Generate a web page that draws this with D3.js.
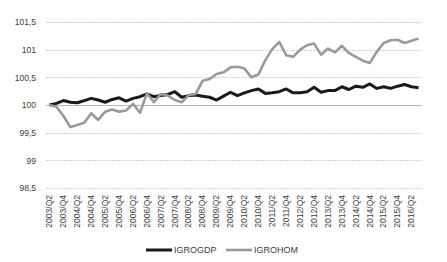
<!DOCTYPE html>
<html>
<head>
<meta charset="utf-8">
<script src="https://cdn.jsdelivr.net/npm/d3@7"></script>
<style>
  body { margin: 0; background: #fff; }
  text { font-family: "Liberation Sans", Arial, sans-serif; fill: #404040; }
</style>
</head>
<body>
<div class="canvas"></div>
<script>
// data
const quarters = [];
for (let y = 2003; y <= 2016; y++) {
  for (let q = 1; q <= 4; q++) {
    if ((y === 2003 && q < 2) || (y === 2016 && q > 3)) continue;
    quarters.push(`${y}/Q${q}`);
  }
}
const igrogdp = [100.00, 100.03, 100.08, 100.05, 100.04, 100.08, 100.12, 100.09, 100.05, 100.10,
  100.13, 100.07, 100.12, 100.15, 100.20, 100.15, 100.17, 100.19, 100.24, 100.14,
  100.17, 100.18, 100.16, 100.14, 100.09, 100.16, 100.23, 100.17, 100.22, 100.26,
  100.29, 100.21, 100.22, 100.24, 100.29, 100.22, 100.22, 100.24, 100.32, 100.23,
  100.26, 100.26, 100.33, 100.28, 100.34, 100.32, 100.38, 100.30, 100.33, 100.30,
  100.34, 100.37, 100.33, 100.31];
const igrohom = [100.00, 99.97, 99.80, 99.60, 99.64, 99.68, 99.85, 99.73, 99.88, 99.92,
  99.88, 99.90, 100.02, 99.86, 100.21, 100.05, 100.20, 100.17, 100.09, 100.05,
  100.18, 100.20, 100.44, 100.47, 100.56, 100.59, 100.68, 100.69, 100.66, 100.50,
  100.55, 100.81, 101.01, 101.14, 100.90, 100.87, 101.00, 101.08, 101.11, 100.91,
  101.02, 100.95, 101.07, 100.94, 100.87, 100.80, 100.76, 100.96, 101.12, 101.17,
  101.18, 101.12, 101.16, 101.20];
const yTicks = [98.5, 99, 99.5, 100, 100.5, 101, 101.5];
const series = [
  { name: 'IGROGDP', values: igrogdp, color: '#1a1a1a', width: 3 },
  { name: 'IGROHOM', values: igrohom, color: '#9a9a9a', width: 2.6 }
];

// Margins + Dimensions
const margin = { top: 22, right: 25, bottom: 74, left: 46 };
const width = 447, height = 262;
const graphWidth = width - margin.left - margin.right;
const graphHeight = height - margin.top - margin.bottom;

const svg = d3.select('.canvas').append('svg')
  .attr('width', width)
  .attr('height', height);
const graph = svg.append('g')
  .attr('transform', `translate(${margin.left},${margin.top})`);

// scales
const xScale = d3.scaleBand().domain(quarters).range([0, graphWidth]);
const yScale = d3.scaleLinear().domain([98.5, 101.5]).range([graphHeight, 0]);
const xPos = i => xScale(quarters[i]) + xScale.bandwidth() / 2;

// gridlines
graph.append('g').selectAll('line')
  .data(yTicks)
  .enter().append('line')
  .attr('x1', 0).attr('x2', graphWidth)
  .attr('y1', d => Math.round(yScale(d)) + 0.5)
  .attr('y2', d => Math.round(yScale(d)) + 0.5)
  .attr('stroke', d => d === 100 ? '#b8b8b8' : '#d0d0d0')
  .attr('stroke-dasharray', d => d === 100 ? null : '2,1');

// y axis
const yAxis = d3.axisLeft(yScale)
  .tickValues(yTicks)
  .tickSize(0)
  .tickPadding(10)
  .tickFormat(d => String(d).replace('.', ','));
const yAxisGroup = graph.append('g').call(yAxis);
yAxisGroup.select('.domain').remove();
yAxisGroup.selectAll('text')
  .style('font-size', '8.5px')
  .attr('fill', '#404040');

// x axis, labels every other quarter
const xAxis = d3.axisBottom(xScale)
  .tickValues(quarters.filter((d, i) => i % 2 === 0))
  .tickSize(0)
  .tickPadding(0);
const xAxisGroup = graph.append('g')
  .attr('transform', `translate(0,${graphHeight})`)
  .call(xAxis);
xAxisGroup.select('.domain').remove();
xAxisGroup.selectAll('text')
  .attr('transform', 'rotate(-90)')
  .attr('text-anchor', 'end')
  .attr('x', -7)
  .attr('y', 0)
  .attr('dy', '0.32em')
  .style('font-size', '8.5px')
  .attr('fill', '#404040');

// lines
const line = d3.line()
  .x((d, i) => xPos(i))
  .y(d => yScale(d));

graph.selectAll('.series')
  .data(series)
  .enter().append('path')
  .attr('class', 'series')
  .attr('d', d => line(d.values))
  .attr('fill', 'none')
  .attr('stroke', d => d.color)
  .attr('stroke-width', d => d.width)
  .attr('stroke-linejoin', 'round');

// legend
const legend = svg.append('g').attr('transform', 'translate(146,250)');
const items = legend.selectAll('g')
  .data(series)
  .enter().append('g')
  .attr('transform', (d, i) => `translate(${i * 80},0)`);
items.append('line')
  .attr('x1', 0).attr('x2', 26)
  .attr('stroke', d => d.color)
  .attr('stroke-width', d => d.width);
items.append('text')
  .attr('x', 28)
  .attr('dy', '0.35em')
  .style('font-size', '9px')
  .text(d => d.name);
</script>
</body>
</html>
